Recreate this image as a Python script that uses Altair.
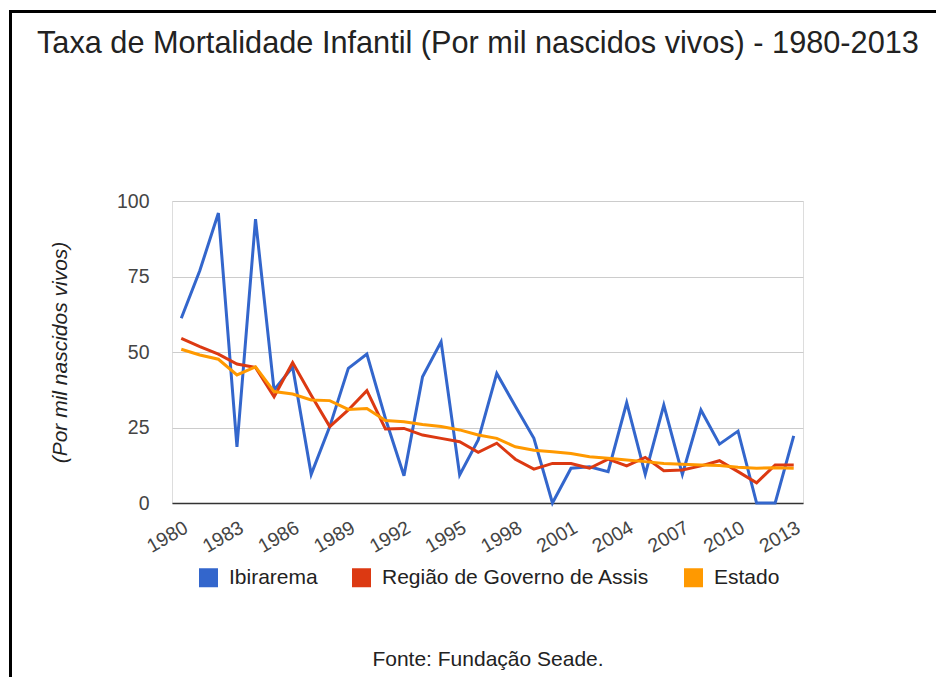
import altair as alt
import pandas as pd

years = list(range(1980, 2014))
series = ["Ibirarema", "Região de Governo de Assis", "Estado"]
colors = ["#3366cc", "#dc3912", "#ff9900"]

ibirarema = [61.2, 77, 96, 18.6, 94, 37.4, 45, 9.5, 25.3, 44.6, 49.3, 28, 9, 41.8,
             53.4, 9.3, 20.9, 42.9, 32, 21.4, 0, 11.5, 12, 10.4, 33.2, 9.5, 32.4, 9.5,
             30.8, 19.5, 23.8, 0, 0, 22.2]
regiao = [54.5, 51.8, 49.3, 46, 44.9, 35.2, 46.5, 35.7, 25.3, 30.8, 37.2, 24.5, 24.7,
          22.5, 21.4, 20.3, 16.8, 19.8, 14.5, 11.2, 13.1, 13.1, 11.5, 14.5, 12.3, 15.1,
          10.7, 10.9, 12.3, 14, 10.4, 6.7, 12.6, 12.6]
estado = [50.9, 49, 47.6, 42.4, 45.1, 36.9, 36.1, 34.1, 33.9, 31, 31.3, 27.3, 26.9, 26,
          25.3, 24.2, 22.5, 21.4, 18.6, 17.5, 17, 16.4, 15.3, 14.8, 14.2, 13.7, 13.1,
          12.8, 12.6, 12.4, 11.8, 11.5, 11.7, 11.5]

x_ticks = list(range(1980, 2014, 3))
y_ticks = [0, 25, 50, 75, 100]

rows = []
for name, vals in zip(series, [ibirarema, regiao, estado]):
    for a, v in zip(years, vals):
        rows.append({"ano": a, "serie": name, "valor": v})
df = pd.DataFrame(rows)

# stroke scale uses the data-derived (alphabetical) domain, so colours follow that order
color_of = dict(zip(series, colors))
alpha_series = sorted(series)
alpha_colors = [color_of[s] for s in alpha_series]

FONT = "Liberation Sans, Arial, sans-serif"
W, H = 631, 302

x_enc = alt.X(
    "ano:O",
    scale=alt.Scale(type="point", padding=0.5),
    axis=alt.Axis(
        values=x_ticks, labelAngle=-30, labelAlign="right", labelBaseline="top",
        labelFontSize=19.5, labelColor="#444", labelFont=FONT, labelPadding=15,
        ticks=False, domain=True, domainColor="#333", domainWidth=1.5, grid=False,
        labelOverlap=False,
        title="Fonte: Fundação Seade.", titleFont=FONT, titleFontSize=21,
        titleFontWeight="normal", titleColor="#222", titlePadding=93,
    ),
)
y_enc = alt.Y(
    "valor:Q",
    scale=alt.Scale(domain=[0, 100], nice=False),
    axis=alt.Axis(
        values=y_ticks, grid=True, gridColor="#cccccc", gridWidth=1, domain=False,
        ticks=False, labelFontSize=19.5, labelColor="#444", labelFont=FONT,
        labelPadding=23,
        title="(Por mil nascidos vivos)", titleFont=FONT, titleFontSize=21,
        titleFontStyle="italic", titleFontWeight="normal", titleColor="#222",
        titlePadding=46,
    ),
)

lines = alt.Chart(df).mark_line(strokeWidth=3).encode(
    x=x_enc,
    y=y_enc,
    stroke=alt.Stroke("serie:N", scale=alt.Scale(range=alpha_colors), legend=None),
)

legend_layer = alt.Chart(df).mark_square(size=0).encode(
    x=alt.X("ano:O"),
    y=alt.Y("valor:Q"),
    fill=alt.Fill(
        "serie:N",
        scale=alt.Scale(domain=series, range=colors),
        legend=alt.Legend(
            orient="none", legendX=26, legendY=366, direction="horizontal", title=None,
            symbolType="square", symbolSize=361, symbolStrokeWidth=0, symbolOpacity=1,
            labelFontSize=21, labelFont=FONT, labelColor="#222", labelOffset=10,
            columnPadding=33, padding=0, labelLimit=400,
        ),
    ),
)

frame = alt.Chart(alt.Data(values=[{}])).mark_rect(
    fillOpacity=0, stroke="black", strokeWidth=3
).encode(
    x=alt.value(-161.5), x2=alt.value(W + 300),
    y=alt.value(-189.5), y2=alt.value(H + 400),
)

chart = alt.layer(frame, lines, legend_layer).properties(
    width=W, height=H,
    autosize=alt.AutoSizeParams(type="none"),
    padding={"left": 164, "top": 193, "right": 133, "bottom": 174},
    title=alt.TitleParams(
        "Taxa de Mortalidade Infantil (Por mil nascidos vivos) - 1980-2013",
        anchor="start", frame="group", dx=-135, offset=0, dy=50,
        fontSize=30.7, font=FONT, fontWeight="normal", color="#222",
    ),
).configure_view(stroke=None).configure(background="white")

chart.save("out.html", embed_options={"renderer": "svg", "actions": False})
